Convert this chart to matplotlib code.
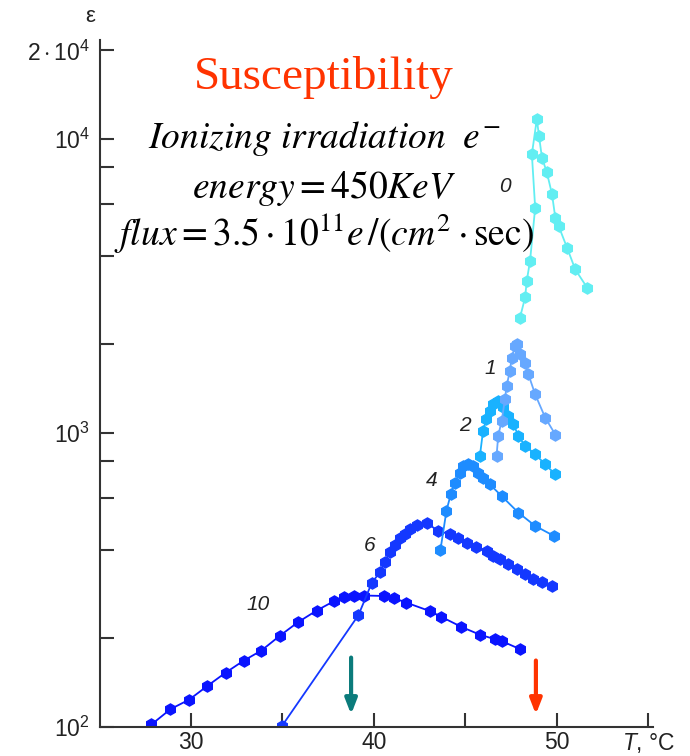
import matplotlib
matplotlib.use('Agg')
import matplotlib.pyplot as plt
from matplotlib.ticker import FixedLocator, FixedFormatter, NullFormatter

plt.rcParams['font.family'] = ['Liberation Sans', 'DejaVu Sans']
plt.rcParams['mathtext.fontset'] = 'custom'
plt.rcParams['mathtext.rm'] = 'Liberation Sans'
plt.rcParams['mathtext.it'] = 'Liberation Sans:italic'

# curve "0"
t0 = [47.98, 48.26, 48.35, 48.53, 48.81, 48.63, 48.9, 49.02, 49.18, 49.45, 49.73,
      49.91, 50.09, 50.55, 51.0, 51.65]
e0 = [2466, 2890, 3290, 3846, 5830, 8870, 11670, 10230, 8640, 7690, 6490,
      5400, 5060, 4270, 3600, 3120]
# curve "1"
t1 = [46.7, 46.79, 46.98, 47.16, 47.25, 47.43, 47.53, 47.71, 47.8, 47.98, 48.26,
      48.44, 48.81, 49.36, 49.91]
e1 = [836, 978, 1100, 1302, 1447, 1626, 1804, 1977, 2003, 1853, 1735,
      1583, 1353, 1127, 988]
# curve "2"
t2 = [45.79, 45.96, 46.15, 46.33, 46.52, 46.79, 47.05, 47.34, 47.62, 47.89, 48.26,
      48.81, 49.36, 49.91]
e2 = [836, 1016, 1114, 1189, 1251, 1285, 1230, 1143, 1072, 978, 904,
      847, 782, 723]
# curve "4"
t4 = [43.63, 43.96, 44.2, 44.42, 44.69, 44.87, 45.14, 45.42, 45.69, 45.96, 46.33,
      46.98, 47.89, 48.81, 49.82]
e4 = [399, 543, 620, 678, 733, 773, 782, 772, 733, 705, 669,
      610, 536, 483, 447]
# curve "6"
t6 = [34.98, 39.15, 39.87, 40.33, 40.6, 40.87, 41.15, 41.42, 41.69, 41.97, 42.33,
      42.88, 43.5, 44.15, 44.6, 45.07, 45.57, 46.16, 46.5, 46.89, 47.32, 47.8,
      48.25, 48.7, 49.18, 49.71]
e6 = [101, 240, 308, 337, 365, 394, 416, 438, 455, 473, 486,
      494, 465, 452, 438, 423, 410, 397, 382, 372, 359, 344,
      331, 318, 311, 302]
# curve "10"
t10 = [27.84, 28.88, 29.91, 30.9, 31.89, 32.87, 33.85, 34.84, 35.84, 36.87, 37.82,
       38.37, 38.92, 39.47, 40.57, 41.12, 41.76, 43.04, 43.68, 44.78, 45.79,
       46.6, 46.98, 47.98]
e10 = [102, 115, 124, 138, 153, 168, 182, 204, 227, 249, 268,
       277, 280, 280, 279, 274, 265, 248, 237, 219, 206,
       199, 196, 184]

curves = [
    (t10, e10, '#0a14ff', '10', 33.66, 262),
    (t6, e6, '#1438ff', '6', 39.78, 413),
    (t4, e4, '#1e8cff', '4', 43.17, 687),
    (t2, e2, '#19b2ff', '2', 44.97, 1064),
    (t1, e1, '#66a8ff', '1', 46.34, 1663),
    (t0, e0, '#62eef2', '0', 47.16, 6870),
]

fig = plt.figure(figsize=(6.9, 7.56), dpi=100)
ax = fig.add_axes([99.5 / 690, 29 / 756, 553.5 / 690, 687 / 756])

for t, e, c, lab, lx, ly in curves:
    ax.plot(t, e, '-', color=c, lw=1.3, marker='h', ms=8, mec=c, mfc=c)
    ax.text(lx, ly, lab, fontsize=15, style='italic', color='#222222',
            ha='center', va='center')

ax.set_yscale('log')
ax.set_xlim(25, 55.25)
ax.set_ylim(100, 21700)

ax.xaxis.set_major_locator(FixedLocator([30, 35, 40, 45, 50, 55]))
ax.xaxis.set_major_formatter(FixedFormatter(['30', '', '40', '', '50', r'$T$, °C']))
ax.yaxis.set_major_locator(FixedLocator([100, 1000, 10000, 20000]))
ax.yaxis.set_major_formatter(FixedFormatter([r'$10^2$', r'$10^3$', r'$10^4$',
                                             r'$2\cdot10^4$']))
ax.yaxis.set_minor_locator(FixedLocator([200, 400, 600, 800, 2000, 4000, 6000, 8000]))
ax.yaxis.set_minor_formatter(NullFormatter())

for s in ('top', 'right'):
    ax.spines[s].set_visible(False)
for s in ('left', 'bottom'):
    ax.spines[s].set_color('#333333')
    ax.spines[s].set_linewidth(1.5)
ax.tick_params(which='both', direction='in', length=10, width=1.5,
               color='#333333', labelsize=16.5, labelcolor='#222222')
ax.tick_params(axis='y', pad=7)
ax.tick_params(axis='x', pad=3)

fig.text(90 / 690, 1 - 16 / 756, 'ε', fontsize=16, color='#222222',
         ha='center', va='center')

ax.text(0.405, 0.945, 'Susceptibility', transform=ax.transAxes, color='#ff3300',
        fontsize=34, family='Liberation Serif', ha='center', va='center')
ax.text(0.405, 0.857, r'$Ionizing\ irradiation\ \ e^{-}$', transform=ax.transAxes,
        fontsize=27, math_fontfamily='stix', ha='center', va='center')
ax.text(0.405, 0.785, r'$energy = 450KeV$', transform=ax.transAxes,
        fontsize=27, math_fontfamily='stix', ha='center', va='center')
ax.text(0.405, 0.718, r'$flux = 3.5\cdot10^{11}e\,/(cm^{2}\cdot\mathrm{sec})$',
        transform=ax.transAxes, fontsize=27, math_fontfamily='stix',
        ha='center', va='center')

# arrows marking transition temperatures
ax.annotate('', xy=(38.75, 108), xytext=(38.75, 176),
            arrowprops=dict(arrowstyle='-|>,head_width=0.35,head_length=0.9',
                            color='#0b7b7b', lw=3))
ax.annotate('', xy=(48.85, 108), xytext=(48.85, 172),
            arrowprops=dict(arrowstyle='-|>,head_width=0.35,head_length=0.9',
                            color='#ff3300', lw=3))

fig.savefig('out.png', dpi=100)
